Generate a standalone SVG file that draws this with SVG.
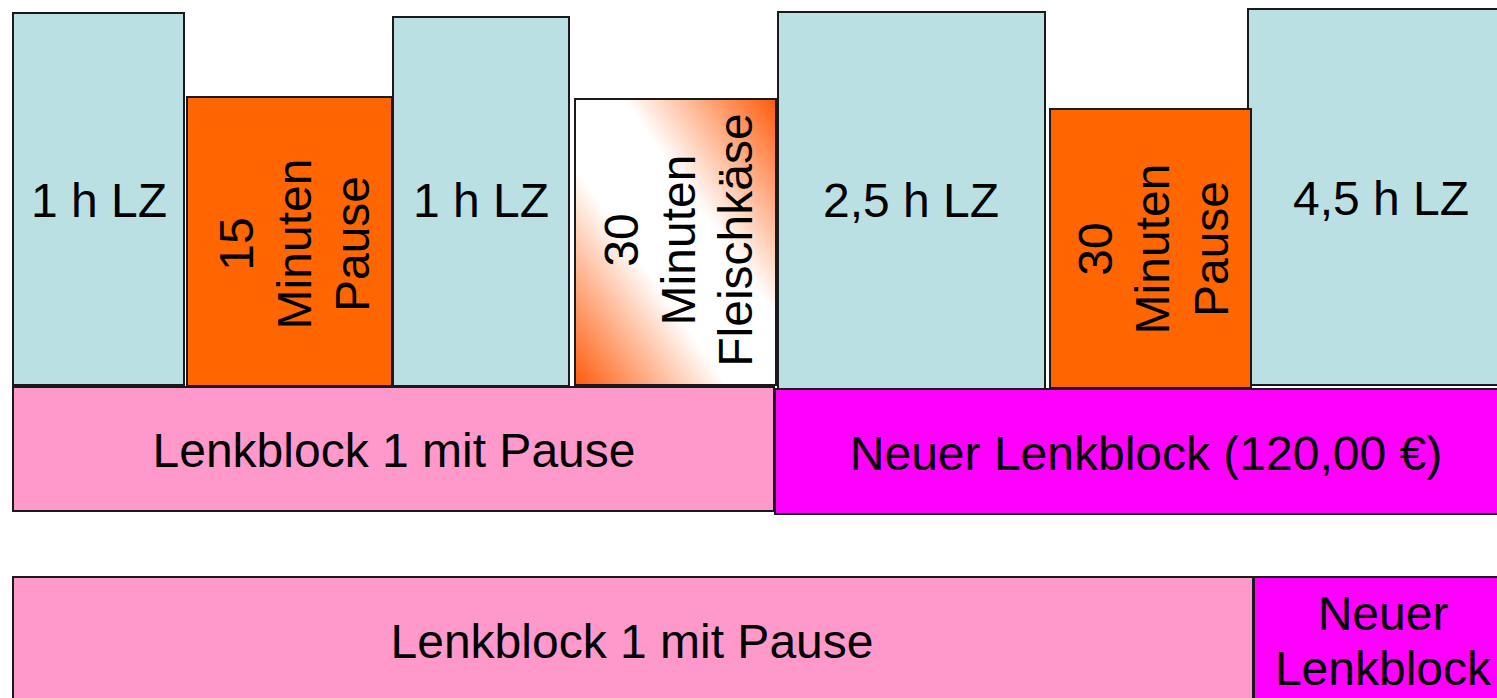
<svg xmlns="http://www.w3.org/2000/svg" width="1497" height="698" viewBox="0 0 1497 698">
<style>
.b{stroke:#1a1a1a;stroke-width:2}
.lz{fill:#BBE0E3}
.or{fill:#FF6600}
.pk{fill:#FF99CC}
.mg{fill:#FF00FF}
text{font-family:"Liberation Sans",Arial,sans-serif;font-size:48px;fill:#000;text-anchor:middle}
</style>
<defs>
<linearGradient id="fk" x1="0" y1="1" x2="1" y2="0">
<stop offset="0" stop-color="#FF5A0A"/>
<stop offset="0.38" stop-color="#FFFFFF"/>
<stop offset="0.62" stop-color="#FFFFFF"/>
<stop offset="1" stop-color="#FF5A0A"/>
</linearGradient>
</defs>
<rect width="1497" height="698" fill="#fff"/>
<g id="lz1"><rect class="b lz" x="13" y="13" width="171" height="372"/><text x="99" y="217">1 h LZ</text></g>
<g id="p15"><rect class="b or" x="187" y="97" width="205" height="289"/>
<text transform="translate(0,244) rotate(-90)"><tspan x="0" y="253">15</tspan><tspan x="0" y="311">Minuten</tspan><tspan x="0" y="369">Pause</tspan></text></g>
<g id="lz2"><rect class="b lz" x="393" y="17" width="176" height="369"/><text x="481" y="217">1 h LZ</text></g>
<g id="fleisch"><rect class="b" fill="url(#fk)" x="575" y="99" width="201" height="286"/>
<text transform="translate(0,240) rotate(-90)"><tspan x="0" y="638">30</tspan><tspan x="0" y="695">Minuten</tspan><tspan x="0" y="752">Fleischkäse</tspan></text></g>
<g id="lz3"><rect class="b lz" x="778" y="12" width="267" height="377"/><text x="911" y="217">2,5 h LZ</text></g>
<g id="lz4"><rect class="b lz" x="1248" y="9" width="262" height="376"/><text x="1381" y="215">4,5 h LZ</text></g>
<g id="p30"><rect class="b or" x="1050" y="109" width="201" height="279"/>
<text transform="translate(0,249) rotate(-90)"><tspan x="0" y="1112">30</tspan><tspan x="0" y="1169">Minuten</tspan><tspan x="0" y="1228">Pause</tspan></text></g>
<g id="block1"><rect class="b pk" x="13" y="387" width="761" height="124"/><text x="394" y="467">Lenkblock 1 mit Pause</text></g>
<g id="block2"><rect class="b mg" x="775" y="389" width="735" height="125"/><text x="1146" y="470">Neuer Lenkblock (120,00 €)</text></g>
<g id="block3"><rect class="b pk" x="13" y="577" width="1240" height="130"/><text x="632" y="658">Lenkblock 1 mit Pause</text></g>
<g id="block4"><rect class="b mg" x="1254" y="577" width="260" height="130"/><text x="1383" y="630">Neuer</text><text x="1383" y="685">Lenkblock</text></g>
<g id="connectors"/>
</svg>
